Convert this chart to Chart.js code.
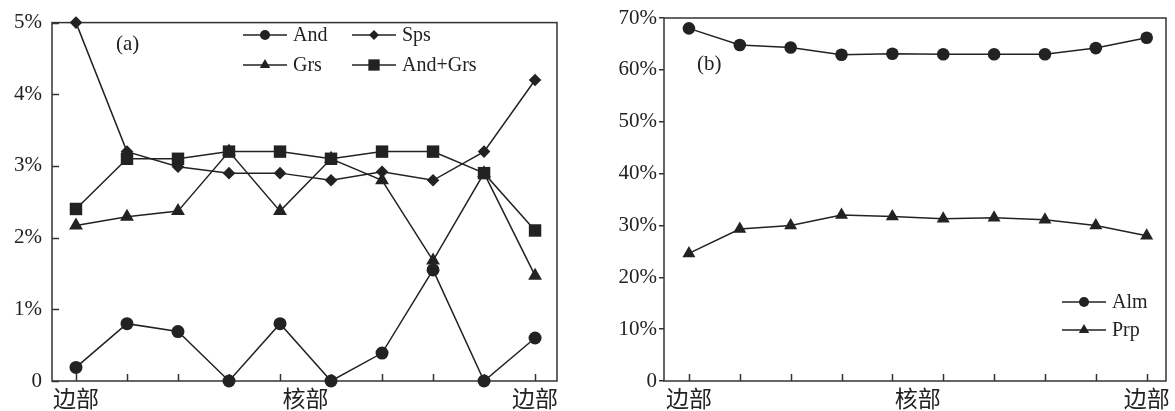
<!DOCTYPE html>
<html>
<head>
<meta charset="utf-8">
<script src="https://cdn.jsdelivr.net/npm/chart.js@4/dist/chart.umd.min.js"></script>
<style>
  html, body { margin: 0; padding: 0; background: #fff; }
  .box { position: absolute; top: 0; height: 411px; }
  #boxA { left: 0; width: 580px; }
  #boxB { left: 590px; width: 585px; }
</style>
</head>
<body>
<div class="box" id="boxA"><canvas id="chartA"></canvas></div>
<div class="box" id="boxB"><canvas id="chartB"></canvas></div>
<script>
// sample positions along the profile, rim -> core -> rim
const positions = [0, 1, 2, 3, 4, 5, 6, 7, 8, 9];
const tickValues = [0, 4.5, 9];
const tickLabels = ['边部', '核部', '边部'];

// (a) minor end-members, %
const andVals    = [0.19, 0.80, 0.69, 0, 0.80, 0, 0.39, 1.55, 0, 0.60];
const spsVals    = [5.0, 3.2, 2.99, 2.9, 2.9, 2.8, 2.92, 2.8, 3.2, 4.2];
const grsVals    = [2.17, 2.29, 2.37, 3.2, 2.37, 3.1, 2.8, 1.68, 2.9, 1.47];
const andGrsVals = [2.4, 3.1, 3.1, 3.2, 3.2, 3.1, 3.2, 3.2, 2.9, 2.1];

// (b) major end-members, %
const almVals = [68.0, 64.8, 64.3, 62.9, 63.1, 63.0, 63.0, 63.0, 64.2, 66.2];
const prpVals = [24.6, 29.3, 30.0, 32.0, 31.7, 31.3, 31.5, 31.1, 30.0, 28.0];

const INK = '#222';
const SERIF = "'Liberation Serif', 'DejaVu Serif', serif";
const CJK = "'Noto Sans CJK SC', sans-serif";

function pts(vals) {
    return positions.map((p, i) => ({ x: p, y: vals[i] }));
}

function series(label, vals, style, radius, order) {
    return {
        label: label,
        data: pts(vals),
        borderColor: INK,
        borderWidth: 1.5,
        backgroundColor: INK,
        pointStyle: style,
        pointRadius: radius,
        pointBorderWidth: 0,
        pointBackgroundColor: INK,
        tension: 0,
        clip: false,
        order: order
    };
}

// box frame plus inward tick marks
const frameTicks = {
    id: 'frameTicks',
    beforeDatasetsDraw(chart, args, opts) {
        const { ctx, chartArea: a, scales: { x, y } } = chart;
        ctx.save();
        ctx.strokeStyle = '#333';
        ctx.lineWidth = 1.5;
        ctx.strokeRect(a.left, a.top, a.right - a.left, a.bottom - a.top);
        ctx.beginPath();
        positions.forEach(p => {
            const px = Math.round(x.getPixelForValue(p)) + 0.5;
            ctx.moveTo(px, a.bottom);
            ctx.lineTo(px, a.bottom - 7);
        });
        if (opts.innerY) {
            y.ticks.forEach(t => {
                const py = Math.round(y.getPixelForValue(t.value)) + 0.5;
                ctx.moveTo(a.left, py);
                ctx.lineTo(a.left + 7, py);
            });
        }
        ctx.stroke();
        ctx.restore();
    }
};

// legend entries and panel tag
const legendBox = {
    id: 'legendBox',
    afterDraw(chart, args, opts) {
        const ctx = chart.ctx;
        ctx.save();
        ctx.fillStyle = INK;
        ctx.strokeStyle = INK;
        ctx.textBaseline = 'middle';
        ctx.textAlign = 'left';
        opts.items.forEach(it => {
            const ds = chart.data.datasets[it.index];
            ctx.lineWidth = 1.5;
            ctx.beginPath();
            ctx.moveTo(it.x, it.y);
            ctx.lineTo(it.x + 44, it.y);
            ctx.stroke();
            Chart.helpers.drawPoint(ctx, {
                pointStyle: ds.pointStyle,
                radius: it.r,
                rotation: 0,
                borderWidth: 0
            }, it.x + 22, it.y);
            ctx.fillStyle = INK;
            ctx.font = '20px ' + SERIF;
            ctx.fillText(ds.label, it.x + 50, it.y + 1);
        });
        ctx.font = '21px ' + SERIF;
        ctx.fillText(opts.tag.text, opts.tag.x, opts.tag.y);
        ctx.restore();
    }
};

function xScale(min, max) {
    return {
        type: 'linear',
        min: min,
        max: max,
        afterBuildTicks: s => { s.ticks = tickValues.map(v => ({ value: v })); },
        afterFit: s => { s.height = 30; },
        grid: { display: false, drawTicks: false },
        border: { display: false },
        ticks: {
            autoSkip: false,
            maxRotation: 0,
            padding: 3,
            color: INK,
            font: { family: CJK, size: 23 },
            callback: v => tickLabels[tickValues.indexOf(v)]
        }
    };
}

const common = {
    responsive: true,
    maintainAspectRatio: false,
    animation: false,
    events: []
};

new Chart(document.getElementById('chartA'), {
    type: 'line',
    data: {
        datasets: [
            series('And', andVals, 'circle', 6.5, 4),
            series('Sps', spsVals, 'rectRot', 6.3, 3),
            series('Grs', grsVals, 'triangle', 8, 2),
            series('And+Grs', andGrsVals, 'rect', 8.8, 1)
        ]
    },
    options: Object.assign({}, common, {
        layout: { padding: { top: 17, right: 23, left: 0, bottom: 0 } },
        scales: {
            x: xScale(-0.47, 9.43),
            y: {
                min: 0,
                max: 5,
                afterFit: s => { s.width = 52; },
                grid: { display: false, drawTicks: false },
                border: { display: false },
                ticks: {
                    stepSize: 1,
                    padding: 10,
                    color: INK,
                    font: { family: SERIF, size: 21 },
                    callback: v => v === 0 ? '0' : v + '%'
                }
            }
        },
        plugins: {
            legend: { display: false },
            tooltip: { enabled: false },
            frameTicks: { innerY: true },
            legendBox: {
                tag: { text: '(a)', x: 116, y: 44 },
                items: [
                    { index: 0, x: 243, y: 35, r: 5 },
                    { index: 1, x: 352, y: 35, r: 5 },
                    { index: 2, x: 243, y: 65, r: 6 },
                    { index: 3, x: 352, y: 65, r: 8 }
                ]
            }
        }
    }),
    plugins: [frameTicks, legendBox]
});

new Chart(document.getElementById('chartB'), {
    type: 'line',
    data: {
        datasets: [
            series('Alm', almVals, 'circle', 6.3, 1),
            series('Prp', prpVals, 'triangle', 7.5, 2)
        ]
    },
    options: Object.assign({}, common, {
        layout: { padding: { top: 18, right: 9, left: 0, bottom: 0 } },
        scales: {
            x: xScale(-0.49, 9.38),
            y: {
                min: 0,
                max: 70,
                afterFit: s => { s.width = 74; },
                grid: {
                    drawOnChartArea: false,
                    drawTicks: true,
                    tickLength: 5,
                    color: '#333',
                    lineWidth: 1.5
                },
                border: { display: false },
                ticks: {
                    stepSize: 10,
                    padding: 2,
                    color: INK,
                    font: { family: SERIF, size: 21 },
                    callback: v => v === 0 ? '0' : v + '%'
                }
            }
        },
        plugins: {
            legend: { display: false },
            tooltip: { enabled: false },
            frameTicks: { innerY: false },
            legendBox: {
                tag: { text: '(b)', x: 107, y: 64 },
                items: [
                    { index: 0, x: 472, y: 302, r: 5 },
                    { index: 1, x: 472, y: 330, r: 6 }
                ]
            }
        }
    }),
    plugins: [frameTicks, legendBox]
});
</script>
</body>
</html>
